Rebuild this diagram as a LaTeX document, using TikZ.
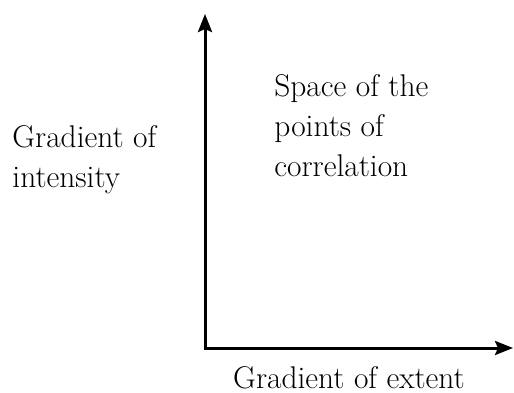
\documentclass[tikz,border=0pt]{standalone}
\usepackage{tikz}
\usetikzlibrary{arrows.meta,positioning}
\tikzset{
  axis/.style={line width=1.5pt, {Stealth[length=9pt,width=7pt,inset=1.5pt]}-{Stealth[length=9pt,width=7pt,inset=1.5pt]}},
  caption/.style={align=left, inner sep=0pt, font=\fontsize{15.7pt}{20pt}\selectfont}
}
\begin{document}
\begin{tikzpicture}[x=0.5pt,y=0.5pt]
  \useasboundingbox (0,0) rectangle (514,392);
  \coordinate (origin) at (205,44);
  \coordinate (ytip) at (205,378);
  \coordinate (xtip) at (513,44);

  \draw[axis] (ytip) -- (origin) -- (xtip);

  \node[caption, anchor=north west] (space) at (274,318) {Space of the\\points of\\correlation};
  \node[caption, anchor=north west] (intensity) at (12,267) {Gradient of\\intensity};
  \node[caption, anchor=base] (extent) at (349,4) {Gradient of extent};
\end{tikzpicture}
\end{document}
